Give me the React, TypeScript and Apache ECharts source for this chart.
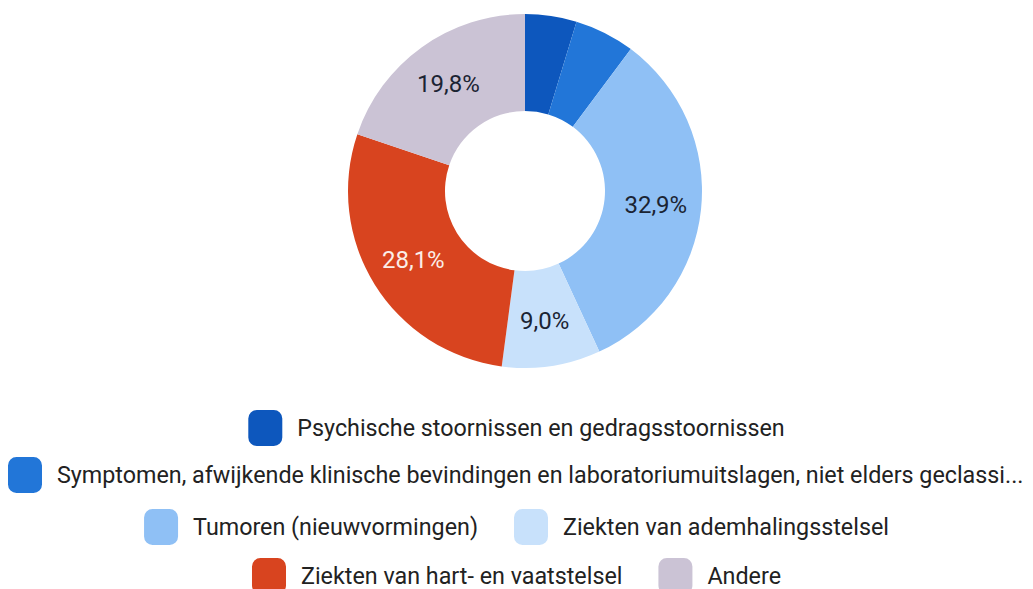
import React, { useEffect, useRef } from "react";
import * as echarts from "echarts";

const categories = [
  "Psychische stoornissen en gedragsstoornissen",
  "Symptomen, afwijkende klinische bevindingen en laboratoriumuitslagen, niet elders geclassificeerd",
  "Tumoren (nieuwvormingen)",
  "Ziekten van ademhalingsstelsel",
  "Ziekten van hart- en vaatstelsel",
  "Andere",
];
const values = [4.7, 5.5, 32.9, 9.0, 28.1, 19.8];
const colors = ["#0d57bd", "#2276d8", "#8fc0f5", "#c8e1fb", "#d8441f", "#cbc3d5"];
const labelColors = ["#1b2433", "#1b2433", "#1b2433", "#1b2433", "#fbeee8", "#1b2433"];
const legendRows = [[0], [1], [2, 3], [4, 5]];
const legendTops = [410, 457, 509, 558];

export default function App() {
  const ref = useRef<HTMLDivElement>(null);
  useEffect(() => {
    document.body.style.margin = "0";
    const chart = echarts.init(ref.current!, undefined, { renderer: "svg" });
    const legendBase = {
      orient: "horizontal",
      left: "center",
      padding: 0,
      itemWidth: 34,
      itemHeight: 36,
      itemGap: 36,
      icon: "roundRect",
      textStyle: {
        fontFamily: "Roboto",
        fontSize: 23.3,
        lineHeight: 22,
        color: "#222222",
        padding: [0, 0, 0, 10],
      },
    };
    chart.setOption({
      animation: false,
      color: colors,
      legend: legendRows.map((row, i) => ({
        ...legendBase,
        top: legendTops[i],
        data: row.map((k) => categories[k]),
        textStyle:
          i === 1
            ? { ...legendBase.textStyle, width: 968, overflow: "truncate", ellipsis: "..." }
            : legendBase.textStyle,
      })),
      series: [
        {
          type: "pie",
          center: [525, 191],
          radius: [80, 177],
          startAngle: 90,
          clockwise: true,
          avoidLabelOverlap: false,
          label: {
            show: true,
            position: "inside",
            fontFamily: "Roboto",
            fontSize: 24,
            formatter: (p: any) =>
              p.value >= 9 ? p.value.toFixed(1).replace(".", ",") + "%" : "",
          },
          labelLine: { show: false },
          itemStyle: { borderWidth: 0 },
          emphasis: { disabled: true },
          data: categories.map((name, i) => ({
            name,
            value: values[i],
            label: { color: labelColors[i] },
          })),
        },
      ],
    });
    return () => chart.dispose();
  }, []);
  return (
    <div
      ref={ref}
      style={{ position: "fixed", left: 0, top: 0, width: 1033, height: 589, background: "#fff" }}
    />
  );
}
